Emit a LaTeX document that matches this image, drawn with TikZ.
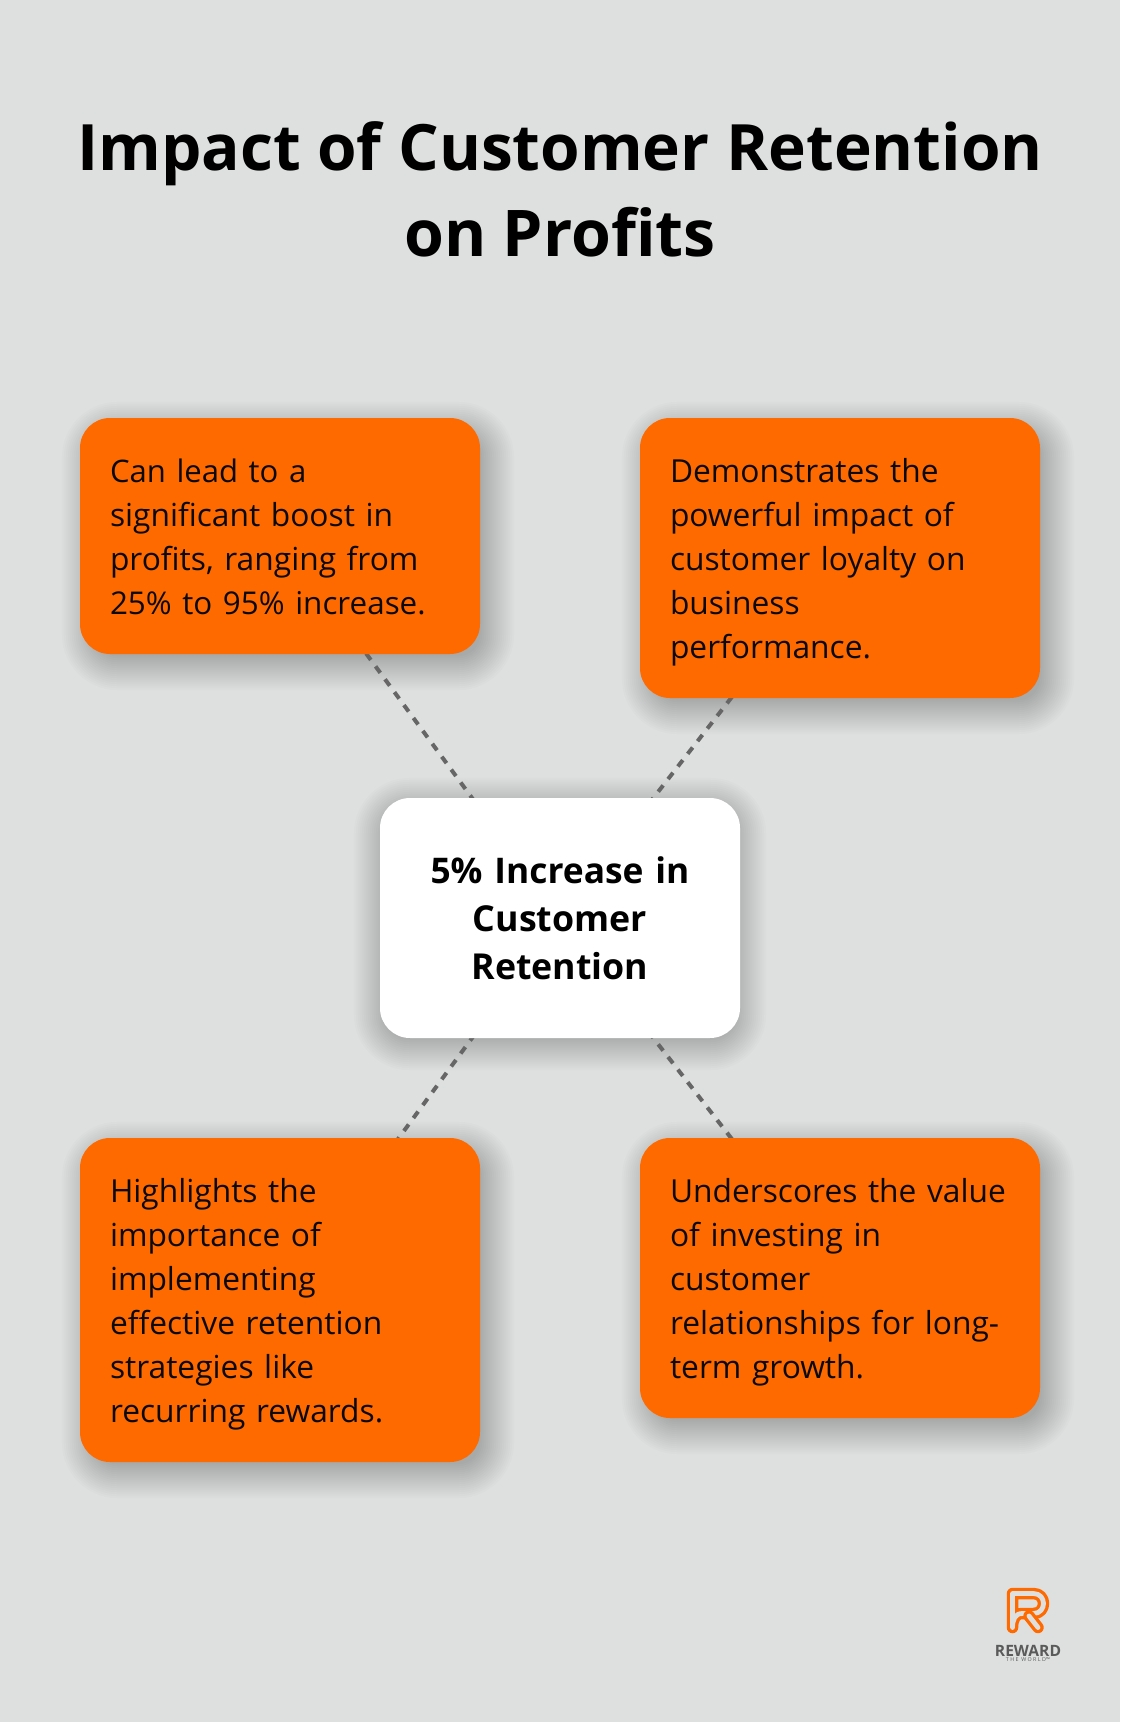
\documentclass[tikz,border=0pt]{standalone}
\usepackage{fontspec}
\setmainfont{Open Sans}
\usetikzlibrary{backgrounds,calc}
\definecolor{bgc}{HTML}{DEE0DF}
\definecolor{orangec}{HTML}{FF6A00}
\definecolor{dashc}{HTML}{666666}
\definecolor{logotxt}{HTML}{5A5A5A}
\definecolor{inkc}{HTML}{0A0A0A}
\newcommand{\cst}{\rule[-7.5pt]{0pt}{33pt}}
\newcommand{\hsta}{\rule[-7.8pt]{0pt}{36pt}}
\tikzset{
  x=0.75pt,y=-0.75pt,
  card/.style={rectangle,rounded corners=22.5pt,fill=orangec,minimum width=300pt,text width=255pt,inner xsep=22.5pt,inner ysep=22.5pt,align=left,text=inkc,font=\fontsize{23.8pt}{33pt}\selectfont},
  hub/.style={rectangle,rounded corners=22.5pt,fill=white,minimum width=270pt,minimum height=180pt,text width=240pt,inner sep=0pt,align=center,text=black,font=\fontsize{26.8pt}{36pt}\selectfont\bfseries},
  titletxt/.style={inner sep=0pt,align=center,text=black,font=\fontsize{47.95pt}{64.5pt}\selectfont\bfseries},
  link/.style={draw=dashc,line width=3pt,dash pattern=on 6pt off 6pt},
  logoband/.style={orangec,line width=8.6pt,line cap=round,line join=round},
  logogap/.style={bgc,line width=3.6pt,line cap=round,line join=round},
}
\newcommand{\softshadow}[3]{%
  \foreach \s in {26,24,...,-8}{%
    \pgfmathsetlengthmacro{\rc}{(22.5+0.75*\s)*1pt}%
    \fill[black,fill opacity=0.0105,rounded corners=\rc]
      ($(#1.south west)+(#2-\s,#3+\s)$) rectangle ($(#1.north east)+(#2+\s,#3-\s)$);
  }%
}
\begin{document}
\begin{tikzpicture}
\useasboundingbox (0,0) rectangle (1120,1722);
\node[titletxt] (title) at (560,189) {Impact of Customer Retention\\{\fontsize{48.3pt}{64.5pt}\selectfont on Profits}};
\node[card] (a) at (280,536) {\cst{\fontsize{23.3pt}{33pt}\selectfont Can lead to a}\\significant boost in\\profits, ranging from\\{\fontsize{23.55pt}{33pt}\selectfont 25\% to 95\% increase.}\cst};
\node[card] (b) at (840,558) {\cst Demonstrates the\\powerful impact of\\customer loyalty on\\business\\performance.\cst};
\node[hub] (hubn) at (560,918) {\hsta{\fontsize{26.5pt}{36pt}\selectfont 5\% Increase in}\\Customer\\Retention\hsta};
\node[card] (c) at (280,1300) {\cst Highlights the\\importance of\\implementing\\effective retention\\strategies like\\recurring rewards.\cst};
\node[card] (d) at (840,1278) {\cst Underscores the value\\of investing in\\customer\\relationships for long-\\term growth.\cst};
\begin{scope}[on background layer]
  \fill[bgc] (0,0) rectangle (1120,1722);
  \softshadow{hubn}{0}{6}
  \softshadow{a}{8}{10}
  \softshadow{b}{8}{10}
  \softshadow{c}{8}{10}
  \softshadow{d}{8}{10}
  \draw[link] (hubn.center) -- (a.center);
  \draw[link] (hubn.center) -- (b.center);
  \draw[link] (hubn.center) -- (c.center);
  \draw[link] (hubn.center) -- (d.center);
\end{scope}
% logo
\draw[logoband] (1012.5,1627.5) -- (1012.5,1593.5) -- (1033.5,1593.5) .. controls (1046.8,1593.5) and (1046.8,1613.5) .. (1033.5,1613.5) -- (1022,1613.5) .. controls (1015,1613.5) and (1012.5,1620) .. (1012.5,1627.5);
\draw[logogap] (1012.5,1627.5) -- (1012.5,1593.5) -- (1033.5,1593.5) .. controls (1046.8,1593.5) and (1046.8,1613.5) .. (1033.5,1613.5) -- (1022,1613.5) .. controls (1015,1613.5) and (1012.5,1620) .. (1012.5,1627.5);
\draw[logoband] (1029,1616) -- (1038,1627.5);
\draw[logogap] (1029,1616) -- (1038,1627.5);
\node[inner sep=0pt,text=logotxt,font=\fontsize{11.7pt}{12pt}\selectfont\bfseries] (logoa) at (1028,1651) {REWARD};
\node[inner sep=0pt,text=logotxt,font=\fontsize{4pt}{5pt}\selectfont] (logob) at (1028,1660) {T H E\ \ W O R L D™};
\end{tikzpicture}
\end{document}
